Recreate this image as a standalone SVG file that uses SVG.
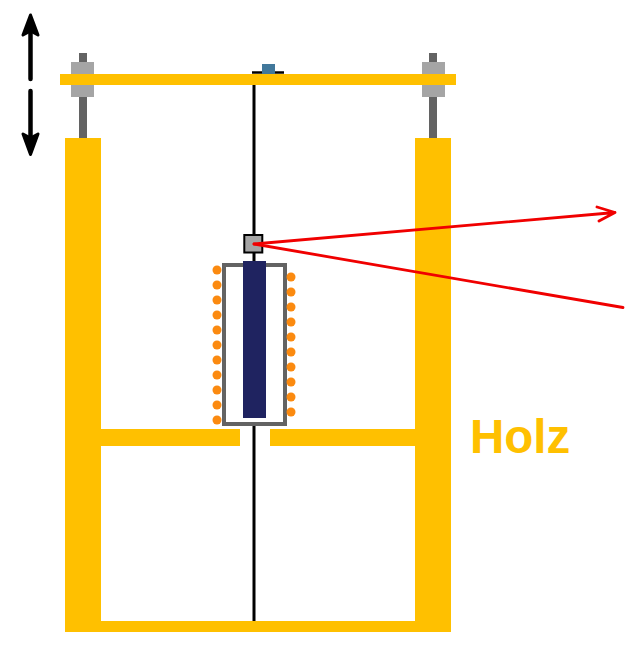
<svg xmlns="http://www.w3.org/2000/svg" width="640" height="647" viewBox="0 0 640 647">
<style>
.wood{fill:#ffc000}
.rod{fill:#636363}
.nut{fill:#a5a5a5}
.wire{stroke:#000;stroke-width:3;fill:none}
.coil{fill:#fb8a10}
.beam{stroke:#f00000;stroke-width:2.800;fill:none;stroke-linecap:round;stroke-linejoin:round}
.shaft{stroke:#000;stroke-width:4.500;fill:none;stroke-linecap:round}
.head{fill:#000;stroke:#000;stroke-width:3;stroke-linejoin:round}
</style>
<rect width="640" height="647" fill="#fff"/>
<g id="adjust-left"><rect class="rod" x="79" y="53" width="8" height="85"/><rect class="nut" x="71" y="62" width="23" height="35"/></g>
<g id="adjust-right"><rect class="rod" x="429" y="53" width="8" height="85"/><rect class="nut" x="422" y="62" width="23" height="35"/></g>
<g id="frame">
<rect class="wood" x="65" y="138" width="36" height="494"/>
<rect class="wood" x="415" y="138" width="36" height="494"/>
<rect class="wood" x="65" y="621" width="386" height="11"/>
<rect class="wood" x="60" y="74" width="396" height="11"/>
<rect class="wood" x="101" y="429" width="139" height="17"/>
<rect class="wood" x="270" y="429" width="145" height="17"/>
</g>
<g id="connectors">
<path class="wire" d="M254 85V621"/>
<path d="M252 72.500H284" stroke="#000" stroke-width="2.500" fill="none"/>
<path class="shaft" d="M30.500 79V30"/>
<path class="head" d="M30.500 15L38 35L30.500 31L23 35Z"/>
<path class="shaft" d="M30.500 91V140"/>
<path class="head" d="M30.500 154.500L38 134L30.500 138L23 134Z"/>
</g>
<g id="knob"><rect x="262" y="64" width="13" height="10" fill="#41789b"/></g>
<g id="crucible"><rect x="224" y="265" width="61" height="159" fill="#fff" stroke="#636363" stroke-width="4"/></g>
<g id="sample"><rect x="243" y="261" width="23" height="157" fill="#1f2360"/></g>
<g id="mirror"><rect x="244.300" y="235" width="18" height="17.500" fill="#a5a5a5" stroke="#000" stroke-width="2"/></g>
<g id="coil-left">
<circle class="coil" cx="217" cy="270" r="4.500"/><circle class="coil" cx="217" cy="285" r="4.500"/><circle class="coil" cx="217" cy="300" r="4.500"/><circle class="coil" cx="217" cy="315" r="4.500"/><circle class="coil" cx="217" cy="330" r="4.500"/><circle class="coil" cx="217" cy="345" r="4.500"/><circle class="coil" cx="217" cy="360" r="4.500"/><circle class="coil" cx="217" cy="375" r="4.500"/><circle class="coil" cx="217" cy="390" r="4.500"/><circle class="coil" cx="217" cy="405" r="4.500"/><circle class="coil" cx="217" cy="420" r="4.500"/>
</g>
<g id="coil-right">
<circle class="coil" cx="291" cy="277" r="4.500"/><circle class="coil" cx="291" cy="292" r="4.500"/><circle class="coil" cx="291" cy="307" r="4.500"/><circle class="coil" cx="291" cy="322" r="4.500"/><circle class="coil" cx="291" cy="337" r="4.500"/><circle class="coil" cx="291" cy="352" r="4.500"/><circle class="coil" cx="291" cy="367" r="4.500"/><circle class="coil" cx="291" cy="382" r="4.500"/><circle class="coil" cx="291" cy="397" r="4.500"/><circle class="coil" cx="291" cy="412" r="4.500"/>
</g>
<g id="beam">
<path class="beam" d="M254 244L615 212.500M597 207L615 212.500L599 221"/>
<path class="beam" d="M254 244L623 307.500"/>
</g>
<g id="label"><text x="470" y="453" font-family="'Liberation Sans',Arial,sans-serif" font-weight="700" font-size="47.500" fill="#ffc000">Holz</text></g>
</svg>
